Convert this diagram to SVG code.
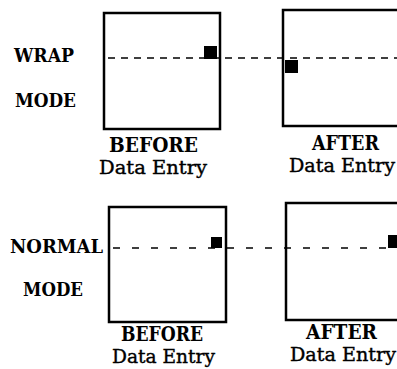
<svg xmlns="http://www.w3.org/2000/svg" width="397" height="369" viewBox="0 0 397 369">
<style>
.box{fill:none;stroke:#000;stroke-width:2.5}
.cur{fill:#000}
.dash{fill:none;stroke:#000;stroke-width:1.6}
.lbl{font-family:"DejaVu Serif","Liberation Serif",serif;font-weight:bold;font-size:18.5px;fill:#000}
.cap{font-family:"DejaVu Serif","Liberation Serif",serif;font-weight:bold;font-size:20px;fill:#000}
.sub{font-family:"DejaVu Serif","Liberation Serif",serif;font-size:19px;fill:#000;stroke:#000;stroke-width:0.4}
</style>
<rect width="397" height="369" fill="#fff"/>
<g id="labels">
<text class="lbl" x="14" y="62" textLength="60" lengthAdjust="spacingAndGlyphs">WRAP</text>
<text class="lbl" x="15" y="107" textLength="61" lengthAdjust="spacingAndGlyphs">MODE</text>
<text class="lbl" x="10" y="253" textLength="93" lengthAdjust="spacingAndGlyphs">NORMAL</text>
<text class="lbl" x="23" y="296" textLength="60" lengthAdjust="spacingAndGlyphs">MODE</text>
</g>
<g id="connectors">
<line class="dash" x1="108" y1="58" x2="397" y2="58" stroke-dasharray="7 6"/>
<line class="dash" x1="113" y1="248" x2="397" y2="248" stroke-dasharray="7 12"/>
</g>
<g id="wrap-before">
<rect class="box" x="104" y="13" width="116" height="116"/>
<rect class="cur" x="204" y="46" width="13" height="13"/>
<text class="cap" x="109" y="152" textLength="89" lengthAdjust="spacingAndGlyphs">BEFORE</text>
<text class="sub" x="99" y="174" textLength="108" lengthAdjust="spacingAndGlyphs">Data Entry</text>
</g>
<g id="wrap-after">
<rect class="box" x="283" y="10" width="130" height="116"/>
<rect class="cur" x="285" y="60" width="13" height="13"/>
<text class="cap" x="312" y="150" textLength="67" lengthAdjust="spacingAndGlyphs">AFTER</text>
<text class="sub" x="289" y="172" textLength="106" lengthAdjust="spacingAndGlyphs">Data Entry</text>
</g>
<g id="normal-before">
<rect class="box" x="109" y="207" width="117" height="115"/>
<rect class="cur" x="211" y="237" width="11" height="11"/>
<text class="cap" x="121" y="341" textLength="82" lengthAdjust="spacingAndGlyphs">BEFORE</text>
<text class="sub" x="112" y="363" textLength="103" lengthAdjust="spacingAndGlyphs">Data Entry</text>
</g>
<g id="normal-after">
<rect class="box" x="286" y="203" width="130" height="117"/>
<rect class="cur" x="388" y="235" width="11" height="13"/>
<text class="cap" x="306" y="339" textLength="71" lengthAdjust="spacingAndGlyphs">AFTER</text>
<text class="sub" x="290" y="361" textLength="106" lengthAdjust="spacingAndGlyphs">Data Entry</text>
</g>
</svg>
